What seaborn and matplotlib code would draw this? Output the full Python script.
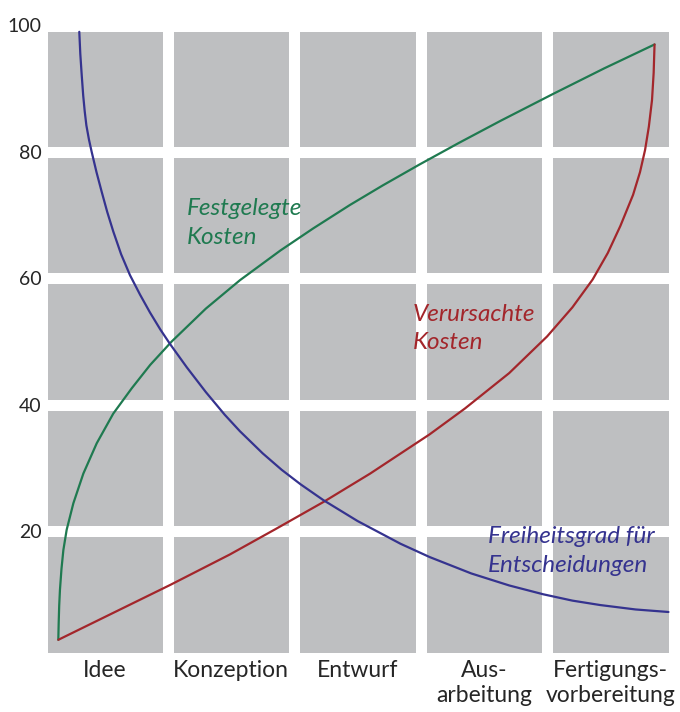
import numpy as np
import pandas as pd
import matplotlib
matplotlib.use('Agg')
import matplotlib.pyplot as plt
import seaborn as sns
from matplotlib.colors import ListedColormap

# Phasen (Spalten) und y-Achse
phasen = ['Idee', 'Konzeption', 'Entwurf', 'Aus-\narbeitung', 'Fertigungs-\nvorbereitung']
y_ticks = [20, 40, 60, 80, 100]

# Festgelegte Kosten (x in Phasen-Einheiten, y in %)
fest_x = [0.133, 0.136, 0.14, 0.146, 0.158, 0.173, 0.199, 0.252, 0.331, 0.437, 0.568, 0.714, 0.86, 1.03,
          1.3, 1.57, 1.89, 2.15, 2.44, 2.7, 2.99, 3.3, 3.63, 4.05, 4.45, 4.85]
fest_y = [2.8, 5.5, 8.2, 10.7, 14.0, 17.0, 20.2, 24.4, 29.1, 33.9, 38.6, 42.6, 46.3, 50.0,
          55.2, 59.7, 64.4, 67.9, 71.6, 74.7, 78.0, 81.4, 84.9, 89.2, 93.2, 97.0]

# Verursachte Kosten
verur_x = [0.133, 0.5, 1.02, 1.49, 1.85, 2.23, 2.6, 3.07, 3.35, 3.7, 4.0, 4.2, 4.36, 4.48, 4.58, 4.68,
           4.735, 4.775, 4.805, 4.83, 4.843, 4.85]
verur_y = [2.8, 6.4, 11.5, 16.3, 20.3, 24.6, 29.1, 35.3, 39.4, 45.0, 50.8, 55.4, 59.8, 64.0, 68.3, 73.2,
           76.8, 80.3, 84.0, 88.2, 92.5, 97.0]

# Freiheitsgrad fuer Entscheidungen
frei_x = [0.299, 0.307, 0.318, 0.33, 0.342, 0.355, 0.375, 0.397, 0.435, 0.476, 0.52, 0.568, 0.63, 0.70,
          0.78, 0.858, 0.94, 1.017, 1.15, 1.3, 1.45, 1.57, 1.75, 1.9, 2.05, 2.23, 2.5, 2.84, 3.07,
          3.4, 3.7, 3.97, 4.2, 4.42, 4.7, 4.96]
frei_y = [99.0, 95.5, 92.2, 88.9, 86.4, 84.2, 82.0, 80.0, 76.8, 73.7, 70.5, 67.4, 63.8, 60.5,
          57.4, 54.6, 51.9, 49.6, 45.9, 42.0, 38.4, 35.8, 32.3, 29.7, 27.4, 24.9, 21.6, 18.0, 15.9,
          13.3, 11.4, 10.0, 9.0, 8.3, 7.6, 7.2]

GRAU = '#bebfc1'
GRUEN = '#1f7a50'
ROT = '#a3262b'
BLAU = '#35338f'

sns.set_style('white')
plt.rcParams['font.family'] = ['Lato', 'DejaVu Sans']

fig = plt.figure(figsize=(6.8, 7.12), dpi=100)
ax = fig.add_axes([41.5 / 680, 1 - 657.5 / 712, 632 / 680, 632 / 712])

# Graue Felder mit weissen Zwischenraeumen
felder = pd.DataFrame(np.ones((len(y_ticks), len(phasen))))
sns.heatmap(felder, cmap=ListedColormap([GRAU]), cbar=False, linewidths=7.9,
            linecolor='white', ax=ax, xticklabels=phasen, yticklabels=False)
ax.tick_params(axis='x', length=0, pad=2, labelsize=16.5, rotation=0)
ax.tick_params(axis='y', length=0)
for s in ax.spines.values():
    s.set_visible(False)

# Kurven auf zweiter Achse (0-100)
ax2 = ax.twinx()
ax2.set_ylim(0, 100)
ax2.set_xlim(0, len(phasen))
kurven = pd.concat([
    pd.DataFrame({'x': fest_x, 'y': fest_y, 'kurve': 'fest'}),
    pd.DataFrame({'x': verur_x, 'y': verur_y, 'kurve': 'verur'}),
    pd.DataFrame({'x': frei_x, 'y': frei_y, 'kurve': 'frei'}),
])
sns.lineplot(data=kurven, x='x', y='y', hue='kurve', sort=False, estimator=None,
             palette={'fest': GRUEN, 'verur': ROT, 'frei': BLAU},
             linewidth=1.6, legend=False, ax=ax2)
ax2.set_xlabel('')
ax2.set_ylabel('')
ax2.yaxis.tick_left()
ax2.set_yticks(y_ticks)
ax2.set_yticklabels([str(v) for v in y_ticks])
ax2.tick_params(axis='y', length=0, pad=0, labelsize=14)
for s in ax2.spines.values():
    s.set_visible(False)

ax2.text(1.15, 72.7, 'Festgelegte\nKosten', color=GRUEN, fontsize=17.5,
         style='italic', ha='left', va='top', linespacing=1.45)
ax2.text(2.94, 56.0, 'Verursachte\nKosten', color=ROT, fontsize=17.5,
         style='italic', ha='left', va='top', linespacing=1.45)
ax2.text(3.53, 20.8, 'Freiheitsgrad für\nEntscheidungen', color=BLAU, fontsize=17.5,
         style='italic', ha='left', va='top', linespacing=1.45)

fig.savefig('out.png', dpi=100)
